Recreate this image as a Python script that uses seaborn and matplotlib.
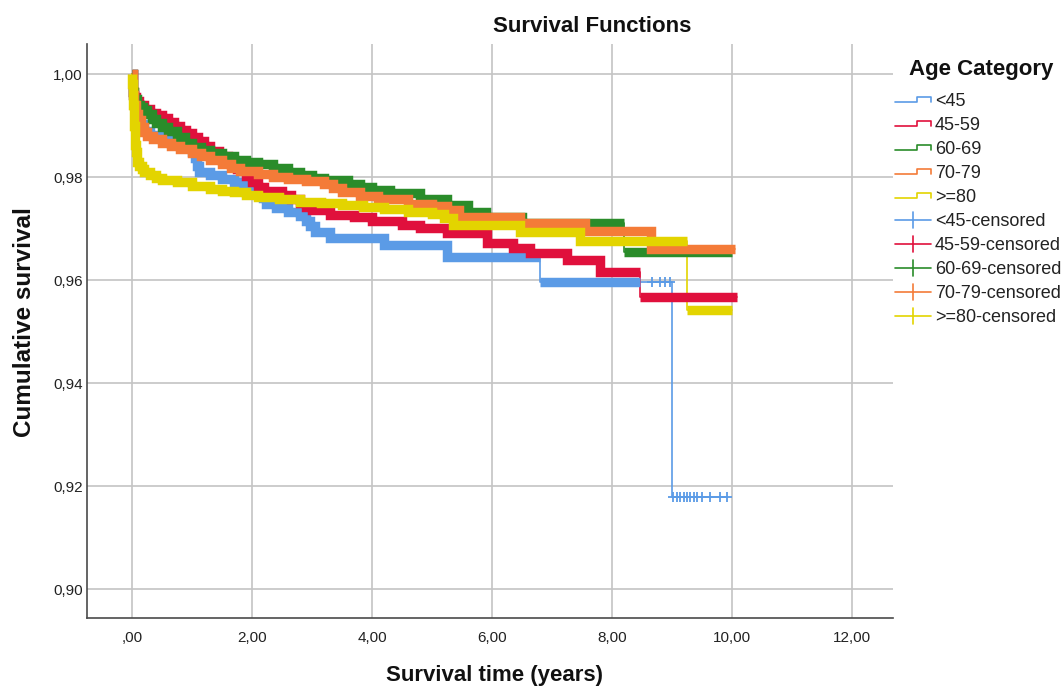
import numpy as np
import pandas as pd
import matplotlib
matplotlib.use("Agg")
import matplotlib.pyplot as plt
from matplotlib.lines import Line2D
from matplotlib.legend_handler import HandlerBase
from matplotlib.ticker import FixedLocator, FuncFormatter
import seaborn as sns

# ---- Kaplan-Meier step estimates per age category (time in years) ----
groups = ["<45", "45-59", "60-69", "70-79", ">=80"]

t_lt45 = [0, 0.01, 0.02, 0.04, 0.07, 0.12, 0.2, 0.3, 0.45, 0.6, 0.8, 0.95, 1.0, 1.05,
          1.08, 1.11, 1.3, 1.5, 1.7, 1.85, 2.0, 2.12, 2.18, 2.24, 2.4, 2.6, 2.8, 2.9,
          2.97, 3.05, 3.3, 4.2, 5.25, 6.8, 9.0, 9.92]
s_lt45 = [1.0, 0.998, 0.996, 0.994, 0.992, 0.9903, 0.989, 0.9882, 0.9876, 0.9872,
          0.9866, 0.986, 0.9848, 0.9836, 0.9822, 0.981, 0.9803, 0.9797, 0.979, 0.9783,
          0.9777, 0.977, 0.976, 0.9748, 0.974, 0.9733, 0.9724, 0.9715, 0.9705,
          0.9694, 0.9682, 0.9668, 0.9645, 0.9596, 0.9179, 0.9179]

t_45_59 = [0, 0.01, 0.02, 0.04, 0.07, 0.12, 0.2, 0.3, 0.4, 0.5, 0.6, 0.7, 0.8, 0.9,
           1.0, 1.1, 1.2, 1.3, 1.45, 1.6, 1.75, 1.9, 2.0, 2.1, 2.2, 2.5, 2.65, 2.8,
           2.9, 3.0, 3.3, 3.7, 4.0, 4.5, 4.8, 5.25, 5.92, 6.35, 6.63, 7.25, 7.8,
           8.47, 10.08]
s_45_59 = [1.0, 0.998, 0.9965, 0.9955, 0.9947, 0.994, 0.9932, 0.9925, 0.992,
           0.9914, 0.9907, 0.99, 0.9892, 0.9885, 0.9878, 0.987, 0.986, 0.985,
           0.984, 0.9828, 0.9815, 0.9802, 0.979, 0.978, 0.9772, 0.9766, 0.9758,
           0.975, 0.9742, 0.9735, 0.9727, 0.9722, 0.9715, 0.9706, 0.9701, 0.9691,
           0.9672, 0.9662, 0.9652, 0.9639, 0.9616, 0.9567, 0.9567]

t_60_69 = [0, 0.01, 0.02, 0.04, 0.08, 0.13, 0.18, 0.25, 0.33, 0.4, 0.5, 0.6, 0.75,
           0.88, 1.0, 1.15, 1.3, 1.5, 1.7, 1.9, 2.1, 2.35, 2.6, 2.8, 3.0, 3.2, 3.6,
           3.8, 4.0, 4.3, 4.8, 5.25, 5.6, 5.9, 6.5, 8.2, 10.0]
s_60_69 = [1.0, 0.998, 0.9965, 0.9952, 0.994, 0.9935, 0.993, 0.9922, 0.9913,
           0.9905, 0.9897, 0.989, 0.9878, 0.9866, 0.9858, 0.9852, 0.9847, 0.984,
           0.9834, 0.983, 0.9825, 0.9818, 0.981, 0.9804, 0.9799, 0.9794, 0.9787,
           0.978, 0.9775, 0.9769, 0.9757, 0.9746, 0.9733, 0.9722, 0.9711, 0.9654,
           0.9654]

t_70_79 = [0, 0.01, 0.02, 0.04, 0.07, 0.1, 0.15, 0.2, 0.25, 0.35, 0.5, 0.65, 0.8,
           1.0, 1.15, 1.3, 1.5, 1.65, 1.8, 2.1, 2.35, 2.6, 2.9, 3.2, 3.35, 3.5, 3.8,
           4.1, 4.6, 5.0, 5.25, 5.45, 6.47, 7.55, 8.65, 10.05]
s_70_79 = [1.0, 0.998, 0.996, 0.994, 0.9922, 0.991, 0.9897, 0.9887, 0.9879,
           0.9873, 0.9866, 0.9861, 0.9855, 0.9847, 0.984, 0.9833, 0.9825, 0.9818,
           0.9812, 0.9806, 0.9801, 0.9797, 0.9792, 0.9786, 0.9778, 0.9771, 0.9764,
           0.9757, 0.9748, 0.9743, 0.9736, 0.9722, 0.9711, 0.9695, 0.966, 0.966]

t_80 = [0, 0.008, 0.016, 0.024, 0.032, 0.04, 0.048, 0.056, 0.065, 0.075, 0.09,
        0.12, 0.16, 0.2, 0.3, 0.4, 0.5, 0.75, 1.0, 1.3, 1.5, 1.7, 1.9, 2.1, 2.45,
        2.8, 3.15, 3.5, 3.85, 4.2, 4.6, 5.0, 5.2, 5.35, 6.47, 7.47, 9.25, 10.0]
s_80 = [1.0, 0.998, 0.996, 0.994, 0.992, 0.99, 0.988, 0.9862, 0.9848, 0.9838,
        0.983, 0.9822, 0.9815, 0.981, 0.9803, 0.9799, 0.9795, 0.979, 0.9783,
        0.9777, 0.9773, 0.977, 0.9766, 0.9762, 0.9757, 0.9752, 0.9749, 0.9745,
        0.9741, 0.9737, 0.9733, 0.9728, 0.972, 0.9707, 0.9693, 0.9676, 0.9542,
        0.9542]

# sparse censored observations in the <45 tail
cens_t_lt45 = [8.66, 8.8, 8.88, 8.97, 9.02, 9.08, 9.13, 9.19, 9.24, 9.3, 9.36,
               9.41, 9.49, 9.63, 9.8, 9.91]
cens_s_lt45 = [0.9596, 0.9596, 0.9596, 0.9596, 0.9179, 0.9179, 0.9179, 0.9179,
               0.9179, 0.9179, 0.9179, 0.9179, 0.9179, 0.9179, 0.9179, 0.9179]

# follow-up time after which censoring in the <45 group becomes sparse
dense_until = {"<45": 8.47}

x_ticks = [0, 2, 4, 6, 8, 10, 12]
y_ticks = [0.90, 0.92, 0.94, 0.96, 0.98, 1.00]

series = {
    "<45": (t_lt45, s_lt45),
    "45-59": (t_45_59, s_45_59),
    "60-69": (t_60_69, s_60_69),
    "70-79": (t_70_79, s_70_79),
    ">=80": (t_80, s_80),
}

palette = {
    "<45": "#5B9BE6",
    "45-59": "#E0103C",
    "60-69": "#2A8C2A",
    "70-79": "#F47B38",
    ">=80": "#E3D400",
}

# ---- long-form tables ----
steps = pd.concat(
    [pd.DataFrame({"group": g, "time": t, "survival": s}) for g, (t, s) in series.items()],
    ignore_index=True,
)

# Thick band where censoring marks are dense; large drops are left as thin risers.
BREAK = 0.004
band_rows = []
for g, (t, s) in series.items():
    limit = dense_until.get(g, t[-1])
    seg = 0
    n = len(t)
    for i in range(n - 1):
        if t[i] >= limit:
            break
        t1 = min(t[i + 1], limit)
        band_rows.append({"group": g, "seg": f"{g}#{seg}", "time": t[i], "survival": s[i]})
        big = (s[i] - s[i + 1] > BREAK) or t1 >= limit or i == n - 2
        if big:
            band_rows.append({"group": g, "seg": f"{g}#{seg}", "time": t1, "survival": s[i]})
            seg += 1
band = pd.DataFrame(band_rows)

# ---- figure ----
sns.set_style("white")
plt.rcParams["font.family"] = ["Liberation Sans", "DejaVu Sans"]

fig = plt.figure(figsize=(10.64, 6.88), dpi=100)
ax = fig.add_axes([87 / 1064, 1 - 618 / 688, 806 / 1064, 574 / 688])

sns.lineplot(data=steps, x="time", y="survival", hue="group", hue_order=groups,
             palette=palette, units="group", estimator=None, sort=False,
             drawstyle="steps-post", linewidth=1.2, legend=False, ax=ax, zorder=2)

sns.lineplot(data=band, x="time", y="survival", hue="group", hue_order=groups,
             palette=palette, units="seg", estimator=None, sort=False,
             drawstyle="steps-post", linewidth=6.8, legend=False, ax=ax, zorder=3,
             solid_capstyle="butt", solid_joinstyle="miter")

sns.scatterplot(x=cens_t_lt45, y=cens_s_lt45, marker="+", s=60, color=palette["<45"],
                linewidth=1.3, ax=ax, zorder=4, legend=False)

ax.set_xlim(-0.75, 12.68)
ax.set_ylim(0.89437, 1.00583)
ax.xaxis.set_major_locator(FixedLocator(x_ticks))
ax.yaxis.set_major_locator(FixedLocator(y_ticks))


def fmt_x(v, pos):
    txt = f"{v:.2f}".replace(".", ",")
    return txt[1:] if txt.startswith("0,") else txt


def fmt_y(v, pos):
    return f"{v:.2f}".replace(".", ",")


ax.xaxis.set_major_formatter(FuncFormatter(fmt_x))
ax.yaxis.set_major_formatter(FuncFormatter(fmt_y))
ax.grid(True, color="#c4c4c4", linewidth=1.2)
ax.set_axisbelow(True)
for side in ("top", "right"):
    ax.spines[side].set_visible(False)
for side in ("left", "bottom"):
    ax.spines[side].set_color("#4a4a4a")
    ax.spines[side].set_linewidth(1.2)
ax.tick_params(axis="both", length=0, labelsize=11, colors="#222222")
ax.tick_params(axis="x", pad=9)
ax.tick_params(axis="y", pad=3)
ax.set_xlabel("")
ax.set_ylabel("")

fig.text(592 / 1064, 1 - 27 / 688, "Survival Functions", ha="center", va="center",
         fontsize=16, fontweight="bold", color="#111111")
fig.text(494 / 1064, 1 - 676 / 688, "Survival time (years)", ha="center", va="center",
         fontsize=16, fontweight="bold", color="#111111")
fig.text(25 / 1064, 1 - 322 / 688, "Cumulative survival", ha="center", va="center",
         rotation=90, fontsize=17.5, fontweight="bold", color="#111111")
fig.text(981 / 1064, 1 - 70 / 688, "Age Category", ha="center", va="center",
         fontsize=16, fontweight="bold", color="#111111")


# ---- legend glyphs ----
class StepHandler(HandlerBase):
    def create_artists(self, legend, orig, xd, yd, w, h, fontsize, trans):
        lo = yd + h * 0.3
        hi = yd + h * 0.75
        xm = xd + w * 0.6
        xs = [xd, xm, xm, xd + w, xd + w]
        ys = [lo, lo, hi, hi, lo]
        return [Line2D(xs, ys, color=orig.get_color(), linewidth=1.2, transform=trans)]


class CrossHandler(HandlerBase):
    def create_artists(self, legend, orig, xd, yd, w, h, fontsize, trans):
        ym = yd + h * 0.5
        xm = xd + w * 0.5
        horiz = Line2D([xd, xd + w], [ym, ym], color=orig.get_color(), linewidth=1.2,
                       transform=trans)
        vert = Line2D([xm, xm], [ym - h * 0.63, ym + h * 0.63], color=orig.get_color(),
                      linewidth=1.2, transform=trans)
        return [horiz, vert]


handles, labels, hmap = [], [], {}
for g in groups:
    h = Line2D([], [], color=palette[g])
    handles.append(h)
    labels.append(g)
    hmap[h] = StepHandler()
for g in groups:
    h = Line2D([], [], color=palette[g])
    handles.append(h)
    labels.append(f"{g}-censored")
    hmap[h] = CrossHandler()

leg = ax.legend(handles, labels, handler_map=hmap,
                loc="upper left", bbox_to_anchor=(895 / 1064, 1 - 93 / 688),
                bbox_transform=fig.transFigure, frameon=False, fontsize=13,
                handlelength=2.0, handletextpad=0.2, labelspacing=0.39,
                borderpad=0, borderaxespad=0)
for txt in leg.get_texts():
    txt.set_color("#222222")

fig.savefig("out.png", dpi=100, facecolor="white")
